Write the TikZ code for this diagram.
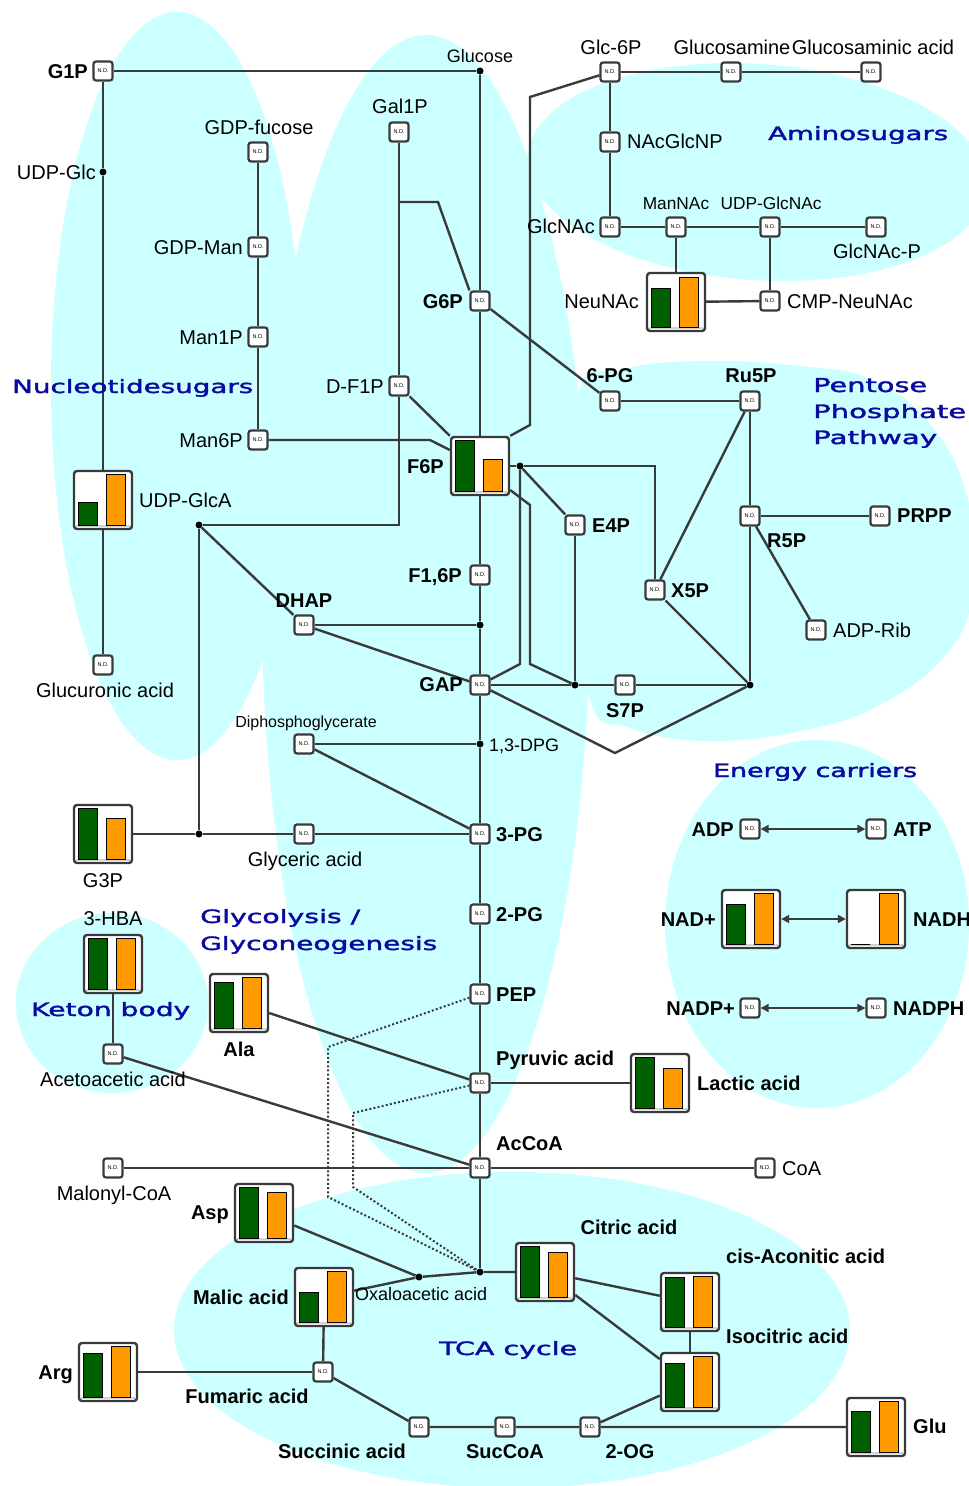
\documentclass[tikz,border=0pt]{standalone}
\usepackage{fontspec}
\setmainfont{Liberation Sans}
\newfontfamily\regfont[FakeBold=1.6]{DejaVu Sans}
\usepackage{graphicx}
\usetikzlibrary{arrows.meta}
\definecolor{cyanbg}{HTML}{CCFFFF}
\definecolor{edgec}{HTML}{3A3A3A}
\definecolor{grn}{HTML}{006000}
\definecolor{org}{HTML}{FF9900}
\definecolor{rblue}{HTML}{0A0A9E}
\newcommand{\barbox}[5]{%
  \node[barb] (#1) at (#2,#3) {};
  \draw[gray!35, line width=1.6pt] ({#2-27},{#3+26}) -- ({#2+27},{#3+26});
  \draw[black, line width=0.9pt, fill=grn] ({#2-25},{#3+25}) rectangle ({#2-6},{#3+25-51*#4});
  \draw[black, line width=0.9pt, fill=org] ({#2+3},{#3+25}) rectangle ({#2+22},{#3+25-51*#5});
}
\newcommand{\rlab}[2]{\resizebox{#1pt}{14pt}{\regfont #2}}
\begin{document}
\begin{tikzpicture}[x=1pt,y=-1pt,
  nd/.style={draw=edgec, line width=2.2pt, fill=white, rounded corners=2.5pt, minimum width=19pt, minimum height=19pt, inner sep=0pt, font=\fontsize{5.5}{6}\selectfont},
  barb/.style={draw=edgec, line width=2.4pt, fill=white, rounded corners=3pt, minimum width=58pt, minimum height=58pt, inner sep=0pt},
  dotn/.style={circle, fill=black, minimum size=7pt, inner sep=0pt},
  ln/.style={draw=edgec, line width=2.4pt},
  dotl/.style={draw=edgec, line width=2pt, dash pattern=on 2pt off 2.2pt},
  arr/.style={draw=edgec, line width=1.8pt, {Triangle[length=8pt,width=8pt]}-{Triangle[length=8pt,width=8pt]}},
  lab/.style={inner sep=0pt, font=\fontsize{20}{22}\selectfont},
  labm/.style={inner sep=0pt, font=\fontsize{18}{20}\selectfont},
  labs/.style={inner sep=0pt, font=\fontsize{17.3}{19}\selectfont},
  blab/.style={inner sep=0pt, font=\fontsize{20}{22}\selectfont\bfseries},
  rl/.style={inner sep=0pt, text=rblue, anchor=base west}
]
\useasboundingbox (0,0) rectangle (969,1486);
% ---------- backgrounds
\fill[cyanbg] (177,386) ellipse [x radius=126pt, y radius=374pt];
\fill[cyanbg] (426,604) ellipse [x radius=164pt, y radius=569pt];
\fill[cyanbg, rotate around={-4:(757,172)}] (757,172) ellipse [x radius=230pt, y radius=108pt];
\fill[cyanbg] plot[smooth cycle, tension=0.7] coordinates {(578,395) (620,370) (700,361) (800,366) (875,381) (935,430) (968,500) (975,580) (950,650) (880,705) (800,731) (707,741) (630,728) (590,700) (576,560)};
\fill[cyanbg] (817,924) ellipse [x radius=152pt, y radius=184pt];
\fill[cyanbg] (112,1003) ellipse [x radius=96pt, y radius=90pt];
\fill[cyanbg] (512,1330) ellipse [x radius=338pt, y radius=158pt];
% ---------- N.D. nodes
\node[nd] (g1p) at (103,71) {N.D.};
\node[nd] (gdpfuc) at (258,152) {N.D.};
\node[nd] (gdpman) at (258,247) {N.D.};
\node[nd] (man1p) at (258,337) {N.D.};
\node[nd] (man6p) at (258,440) {N.D.};
\node[nd] (gal1p) at (399,132) {N.D.};
\node[nd] (df1p) at (399,386) {N.D.};
\node[nd] (g6p) at (480,301) {N.D.};
\node[nd] (f16p) at (480,575) {N.D.};
\node[nd] (dhap) at (304,625) {N.D.};
\node[nd] (gap) at (480,685) {N.D.};
\node[nd] (dpg) at (304,744) {N.D.};
\node[nd] (pg3) at (480,834) {N.D.};
\node[nd] (glyc) at (304,834) {N.D.};
\node[nd] (pg2) at (480,914) {N.D.};
\node[nd] (pep) at (480,994) {N.D.};
\node[nd] (pyr) at (480,1083) {N.D.};
\node[nd] (accoa) at (480,1168) {N.D.};
\node[nd] (malcoa) at (113,1168) {N.D.};
\node[nd] (coa) at (765,1168) {N.D.};
\node[nd] (acac) at (113,1054) {N.D.};
\node[nd] (glc6p) at (610,72) {N.D.};
\node[nd] (glcn) at (731,72) {N.D.};
\node[nd] (glcna) at (871,72) {N.D.};
\node[nd] (nacglcnp) at (610,142) {N.D.};
\node[nd] (glcnac) at (610,227) {N.D.};
\node[nd] (mannac) at (676,227) {N.D.};
\node[nd] (udpglcnac) at (770,227) {N.D.};
\node[nd] (glcnacp) at (876,227) {N.D.};
\node[nd] (cmpneu) at (770,301) {N.D.};
\node[nd] (glcua) at (103,665) {N.D.};
\node[nd] (pg6) at (610,401) {N.D.};
\node[nd] (ru5p) at (750,401) {N.D.};
\node[nd] (r5p) at (750,516) {N.D.};
\node[nd] (prpp) at (880,516) {N.D.};
\node[nd] (adprib) at (816,630) {N.D.};
\node[nd] (e4p) at (575,525) {N.D.};
\node[nd] (x5p) at (655,590) {N.D.};
\node[nd] (s7p) at (625,685) {N.D.};
\node[nd] (adp) at (750,829) {N.D.};
\node[nd] (atp) at (876,829) {N.D.};
\node[nd] (nadp) at (750,1008) {N.D.};
\node[nd] (nadph) at (876,1008) {N.D.};
\node[nd] (fum) at (323,1372) {N.D.};
\node[nd] (succ) at (419,1427) {N.D.};
\node[nd] (succoa) at (505,1427) {N.D.};
\node[nd] (og2) at (590,1427) {N.D.};
% ---------- bar boxes
\barbox{f6p}{480}{466}{1.0}{0.62}
\barbox{neunac}{676}{302}{0.75}{0.98}
\barbox{udpglca}{103}{500}{0.45}{1.0}
\barbox{g3p}{103}{834}{1.0}{0.79}
\barbox{hba}{113}{964}{1.0}{1.0}
\barbox{ala}{239}{1003}{0.9}{1.0}
\barbox{lac}{660}{1083}{1.0}{0.78}
\barbox{nad}{751}{919}{0.78}{1.0}
\barbox{nadh}{876}{919}{0.0}{1.0}
\barbox{asp}{264}{1213}{1.0}{0.9}
\barbox{mal}{324}{1297}{0.58}{1.0}
\barbox{cit}{545}{1272}{1.0}{0.87}
\barbox{cisac}{690}{1302}{0.98}{1.0}
\barbox{iso}{690}{1382}{0.85}{1.0}
\barbox{arg}{108}{1372}{0.85}{1.0}
\barbox{glu}{876}{1427}{0.8}{1.0}
% ---------- dots and bend points
\node[dotn] (dglc) at (480,71) {};
\node[dotn] (dudpglc) at (103,172) {};
\node[dotn] (df6p) at (520,466) {};
\node[dotn] (dj1) at (199,525) {};
\node[dotn] (dj2) at (199,834) {};
\node[dotn] (ddhap) at (480,625) {};
\node[dotn] (d13) at (480,744) {};
\node[dotn] (ds7) at (575,685) {};
\node[dotn] (dr) at (750,685) {};
\node[dotn] (doaa1) at (419,1277) {};
\node[dotn] (doaa2) at (480,1272) {};
\coordinate (dbr) at (399,202);
\coordinate (cbr) at (438,202);
\coordinate (cm6) at (430,440);
\coordinate (cdf) at (399,525);
\coordinate (cg1) at (530,97);
\coordinate (cg2) at (530,425);
\coordinate (cx1) at (655,466);
\coordinate (cv1) at (520,664);
\coordinate (cw1) at (530,505);
\coordinate (cw2) at (530,664);
\coordinate (cv2) at (615,753);
\coordinate (cd1) at (328,1047);
\coordinate (cd2) at (328,1197);
\coordinate (cd3) at (353,1113);
\coordinate (cd4) at (353,1187);
% ---------- edges
\draw[ln] (g1p) -- (dglc);
\draw[ln] (g1p) -- (dudpglc) -- (udpglca) -- (glcua);
\draw[ln] (gdpfuc) -- (gdpman) -- (man1p) -- (man6p);
\draw[ln] (man6p) -- (cm6) -- ([yshift=16pt]f6p.west);
\draw[ln] (gal1p) -- (df1p);
\draw[ln] (df1p) -- (cdf) -- (dj1);
\draw[ln] (dbr) -- (cbr) -- (g6p.north west);
\draw[ln] (df1p) -- (f6p.north west);
\draw[ln] (dglc) -- (g6p) -- (f6p) -- (f16p) -- (ddhap) -- (gap) -- (d13) -- (pg3) -- (pg2) -- (pep) -- (pyr) -- (accoa) -- (doaa2);
\draw[ln] (g6p) -- (pg6);
\draw[ln] (glc6p) -- (cg1) -- (cg2) -- (f6p.north east);
\draw[ln] (glc6p) -- (glcn) -- (glcna);
\draw[ln] (glc6p) -- (nacglcnp) -- (glcnac);
\draw[ln] (glcnac) -- (mannac) -- (udpglcnac) -- (glcnacp);
\draw[ln] (mannac) -- (neunac);
\draw[ln] (udpglcnac) -- (cmpneu);
\draw[ln] (neunac) -- (cmpneu);
\draw[ln] (pg6) -- (ru5p) -- (r5p) -- (dr);
\draw[ln] (ru5p) -- (x5p);
\draw[ln] (r5p) -- (prpp);
\draw[ln] (r5p) -- (adprib);
\draw[ln] (x5p) -- (dr);
\draw[ln] (f6p) -- (df6p);
\draw[ln] (df6p) -- (cx1) -- (x5p);
\draw[ln] (df6p) -- (e4p);
\draw[ln] (df6p) -- (cv1) -- (gap);
\draw[ln] ([yshift=-24pt]f6p.east) -- (cw1) -- (cw2) -- (ds7);
\draw[ln] (e4p) -- (ds7);
\draw[ln] (gap) -- (ds7) -- (s7p) -- (dr);
\draw[ln] (gap) -- (cv2) -- (dr);
\draw[ln] (dhap) -- (ddhap);
\draw[ln] (dhap) -- (gap);
\draw[ln] (dj1) -- (dhap);
\draw[ln] (dj1) -- (dj2);
\draw[ln] (g3p) -- (dj2) -- (glyc) -- (pg3);
\draw[ln] (dpg) -- (d13);
\draw[ln] (dpg) -- (pg3);
\draw[ln] (hba) -- (acac);
\draw[ln] (acac) -- (accoa);
\draw[ln] (ala) -- (pyr);
\draw[ln] (pyr) -- (lac);
\draw[ln] (malcoa) -- (accoa) -- (coa);
\draw[dotl] (pep) -- (cd1) -- (cd2) -- (doaa2);
\draw[dotl] (pyr) -- (cd3) -- (cd4) -- (doaa2);
\draw[ln] (asp) -- (doaa1);
\draw[ln] (mal) -- (doaa1) -- (doaa2) -- (cit);
\draw[ln] (cit) -- (cisac);
\draw[ln] (cit) -- (iso);
\draw[ln] (cisac) -- (iso);
\draw[ln] (iso) -- (og2);
\draw[ln] (mal) -- (fum);
\draw[ln] (arg) -- (fum);
\draw[ln] (fum) -- (succ) -- (succoa) -- (og2) -- (glu);
\draw[arr] (adp) -- (atp);
\draw[arr] (nad) -- (nadh);
\draw[arr] (nadp) -- (nadph);
% ---------- labels
\node[blab, anchor=base east] (lg1p) at (88,78) {G1P};
\node[labm, anchor=base] (lglc) at (480,62) {Glucose};
\node[lab, anchor=base east] (ludpglc) at (96,179) {UDP-Glc};
\node[lab, anchor=base] (lgdpfuc) at (259,134) {GDP-fucose};
\node[lab, anchor=base east] (lgdpman) at (243,254) {GDP-Man};
\node[lab, anchor=base east] (lman1p) at (243,344) {Man1P};
\node[lab, anchor=base east] (lman6p) at (243,447) {Man6P};
\node[lab, anchor=base] (lgal1p) at (400,113) {Gal1P};
\node[lab, anchor=base east] (ldf1p) at (384,393) {D-F1P};
\node[blab, anchor=base east] (lg6p) at (463,308) {G6P};
\node[blab, anchor=base east] (lf6p) at (444,473) {F6P};
\node[blab, anchor=base east] (lf16p) at (462,582) {F1,6P};
\node[blab, anchor=base] (ldhap) at (304,607) {DHAP};
\node[blab, anchor=base east] (lgap) at (463,691) {GAP};
\node[labm, anchor=base west] (l13) at (489,751) {1,3-DPG};
\node[inner sep=0pt, font=\fontsize{16}{18}\selectfont, anchor=base] (ldpg) at (306,727) {Diphosphoglycerate};
\node[blab, anchor=base west] (lpg3) at (496,841) {3-PG};
\node[lab, anchor=base] (lglyc) at (305,866) {Glyceric acid};
\node[lab, anchor=base] (lg3p) at (103,887) {G3P};
\node[blab, anchor=base west] (lpg2) at (496,921) {2-PG};
\node[blab, anchor=base west] (lpep) at (496,1001) {PEP};
\node[blab, anchor=base west] (lpyr) at (496,1065) {Pyruvic acid};
\node[blab, anchor=base west] (llac) at (697,1090) {Lactic acid};
\node[blab, anchor=base west] (laccoa) at (496,1150) {AcCoA};
\node[lab, anchor=base] (lmalcoa) at (114,1200) {Malonyl-CoA};
\node[lab, anchor=base west] (lcoa) at (782,1175) {CoA};
\node[blab, anchor=base] (lala) at (239,1056) {Ala};
\node[lab, anchor=base] (lhba) at (113,925) {3-HBA};
\node[lab, anchor=base] (lacac) at (113,1086) {Acetoacetic acid};
\node[lab, anchor=base] (lglc6p) at (611,54) {Glc-6P};
\node[lab, anchor=base] (lglcn) at (732,54) {Glucosamine};
\node[lab, anchor=base] (lglcna) at (873,54) {Glucosaminic acid};
\node[lab, anchor=base west] (lnac) at (627,148) {NAcGlcNP};
\node[lab, anchor=base east] (lglcnac) at (595,233) {GlcNAc};
\node[labs, anchor=base] (lmannac) at (676,209) {ManNAc};
\node[labs, anchor=base] (ludpglcnac) at (771,209) {UDP-GlcNAc};
\node[lab, anchor=base] (lglcnacp) at (877,258) {GlcNAc-P};
\node[lab, anchor=base east] (lneunac) at (639,308) {NeuNAc};
\node[lab, anchor=base west] (lcmp) at (787,308) {CMP-NeuNAc};
\node[lab, anchor=base west] (ludpglca) at (139,507) {UDP-GlcA};
\node[lab, anchor=base] (lglcua) at (105,697) {Glucuronic acid};
\node[blab, anchor=base] (lpg6) at (610,382) {6-PG};
\node[blab, anchor=base] (lru5p) at (751,382) {Ru5P};
\node[blab, anchor=base west] (lr5p) at (767,547) {R5P};
\node[blab, anchor=base west] (lprpp) at (897,522) {PRPP};
\node[lab, anchor=base west] (ladprib) at (833,637) {ADP-Rib};
\node[blab, anchor=base west] (le4p) at (592,532) {E4P};
\node[blab, anchor=base west] (lx5p) at (671,597) {X5P};
\node[blab, anchor=base] (ls7p) at (625,717) {S7P};
\node[blab, anchor=base east] (ladp) at (734,836) {ADP};
\node[blab, anchor=base west] (latp) at (893,836) {ATP};
\node[blab, anchor=base east] (lnad) at (716,926) {NAD+};
\node[blab, anchor=base west] (lnadh) at (913,926) {NADH};
\node[blab, anchor=base east] (lnadp) at (735,1015) {NADP+};
\node[blab, anchor=base west] (lnadph) at (893,1015) {NADPH};
\node[blab, anchor=base east] (lasp) at (229,1219) {Asp};
\node[blab, anchor=base east] (lmal) at (289,1304) {Malic acid};
\node[labm, anchor=base west] (loaa) at (355,1300) {Oxaloacetic acid};
\node[blab, anchor=base] (lcit) at (629,1234) {Citric acid};
\node[blab, anchor=base west] (lcis) at (726,1263) {cis-Aconitic acid};
\node[blab, anchor=base west] (liso) at (726,1343) {Isocitric acid};
\node[blab, anchor=base east] (larg) at (73,1379) {Arg};
\node[blab, anchor=base] (lfum) at (247,1403) {Fumaric acid};
\node[blab, anchor=base] (lsucc) at (342,1458) {Succinic acid};
\node[blab, anchor=base] (lsuccoa) at (505,1458) {SucCoA};
\node[blab, anchor=base] (log2) at (630,1458) {2-OG};
\node[blab, anchor=base west] (lglu) at (913,1433) {Glu};
% ---------- region labels
\node[rl] (ramino) at (768,140) {\rlab{180}{Aminosugars}};
\node[rl] (rnuc) at (12,393) {\rlab{241}{Nucleotidesugars}};
\node[rl] (rppp1) at (813,392) {\rlab{114}{Pentose}};
\node[rl] (rppp2) at (813,418) {\rlab{153}{Phosphate}};
\node[rl] (rppp3) at (813,444) {\rlab{124}{Pathway}};
\node[rl] (renergy) at (713,777) {\rlab{204}{Energy carriers}};
\node[rl] (rgly1) at (200,923) {\rlab{160}{Glycolysis /}};
\node[rl] (rgly2) at (200,950) {\rlab{237}{Glyconeogenesis}};
\node[rl] (rket) at (31,1016) {\rlab{159}{Keton body}};
\node[rl] (rtca) at (439,1355) {\rlab{138}{TCA cycle}};
\end{tikzpicture}
\end{document}
